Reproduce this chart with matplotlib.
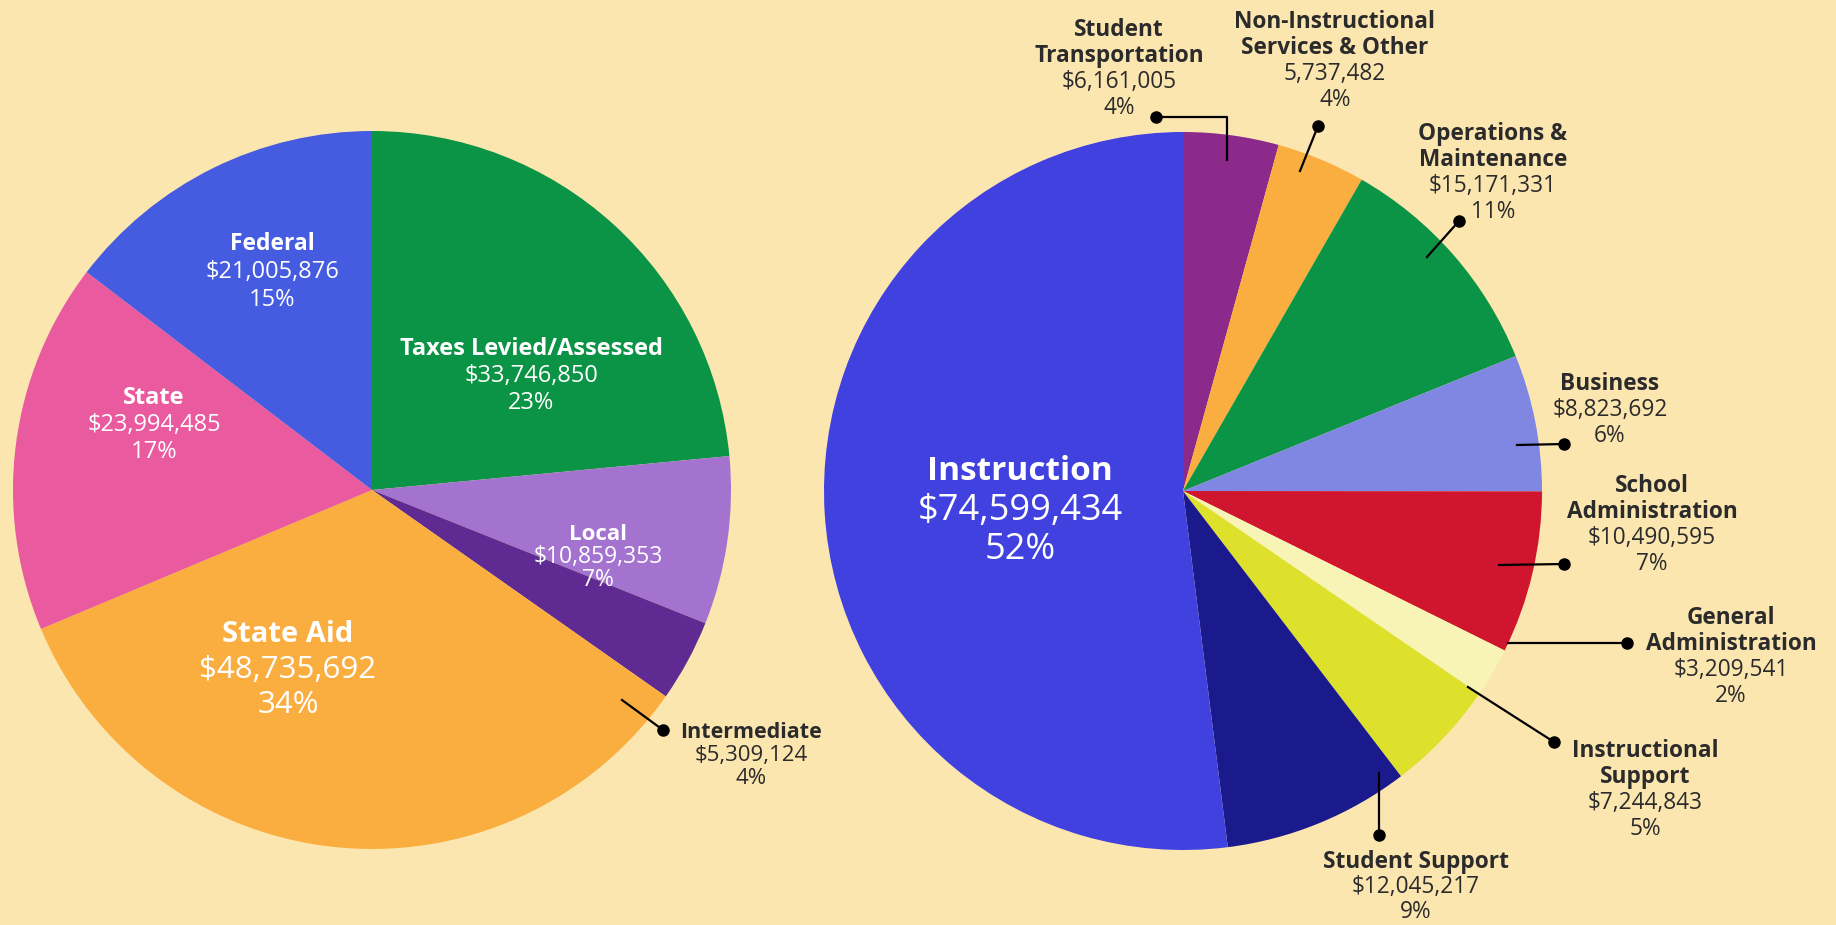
import matplotlib.pyplot as plt

W, H = 1836, 925
bg = '#fce6b0'
dark = '#2b2b2b'
plt.rcParams['font.family'] = ['Open Sans', 'DejaVu Sans']

# Ingresos (pie izquierdo)
rev_names = [['Taxes Levied/Assessed'], ['Local'], ['Intermediate'], ['State Aid'], ['State'], ['Federal']]
rev_values = [33746850, 10859353, 5309124, 48735692, 23994485, 21005876]
rev_pct = [23, 7, 4, 34, 17, 15]
rev_colors = ['#0b9446', '#a373cf', '#5f2b92', '#fbae40', '#ea5a9e', '#455be0']

# Gastos (pie derecho)
exp_names = [['Student', 'Transportation'], ['Non-Instructional', 'Services & Other'],
             ['Operations &', 'Maintenance'], ['Business'], ['School', 'Administration'],
             ['General', 'Administration'], ['Instructional', 'Support'], ['Student Support'],
             ['Instruction']]
exp_values = [6161005, 5737482, 15171331, 8823692, 10490595, 3209541, 7244843, 12045217, 74599434]
exp_pct = [4, 4, 11, 6, 7, 2, 5, 9, 52]
exp_dollar = [True, False, True, True, True, True, True, True, True]
exp_colors = ['#8c2a8c', '#fbae40', '#0b9446', '#7f87e2', '#d0152e', '#f7f4b5', '#dde12c',
              '#1b1a8c', '#4141e0']

# posicion de etiquetas en pixeles
# (x centro, y primera linea, paso, tamaño nombre, tamaño valor, color, linea guia)
rev_layout = [
    (531, 349, 27, 17, 17, 'white', None),
    (598, 534, 23, 16, 16.5, 'white', None),
    (751, 733, 23, 15.5, 16, dark, [(663, 730), (622, 700)]),
    (288, 635, 35, 21, 22.5, 'white', None),
    (154, 398, 27, 17, 17, 'white', None),
    (272, 244, 28, 16.5, 17, 'white', None),
]
s = 16.3
exp_layout = [
    (1119, 30, 26, s, s, dark, [(1156, 117), (1227, 117), (1227, 160)]),
    (1335, 22, 26, s, s, dark, [(1318, 126), (1300, 171)]),
    (1493, 134, 26, s, s, dark, [(1459, 221), (1427, 257)]),
    (1610, 384, 26, s, s, dark, [(1564, 444), (1517, 445)]),
    (1652, 486, 26, s, s, dark, [(1564, 564), (1499, 565)]),
    (1731, 618, 26, s, s, dark, [(1627, 643), (1508, 643)]),
    (1645, 751, 26, s, s, dark, [(1554, 742), (1468, 687)]),
    (1416, 862, 25, s, s, dark, [(1379, 835), (1379, 773)]),
    (1020, 472, 39, 24, 26, 'white', None),
]

fig = plt.figure(figsize=(W / 100, H / 100), dpi=100, facecolor=bg)
ax = fig.add_axes([0, 0, 1, 1])
ax.set_facecolor(bg)

ax.pie(rev_values, colors=rev_colors, startangle=90, counterclock=False,
       center=(372, H - 490), radius=359, wedgeprops=dict(linewidth=0))
ax.pie(exp_values, colors=exp_colors, startangle=90, counterclock=False,
       center=(1183, H - 491), radius=359, wedgeprops=dict(linewidth=0))


def etiqueta(names, value, pct, dollar, lay):
    x, y, step, size_n, size_v, color, guide = lay
    if guide:
        xs = [p[0] for p in guide]
        ys = [H - p[1] for p in guide]
        ax.plot(xs, ys, color='black', lw=1.6, zorder=5)
        ax.plot(xs[0], ys[0], 'o', color='black', ms=8, zorder=6)
    lines = [(n, 'bold', size_n) for n in names]
    lines.append((('$' if dollar else '') + f'{value:,}', 'normal', size_v))
    lines.append((f'{pct}%', 'normal', size_v))
    for i, (t, w, fs) in enumerate(lines):
        ax.text(x, H - (y + i * step), t, ha='center', va='center', fontsize=fs,
                fontweight=w, color=color, zorder=7)


for i in range(len(rev_values)):
    etiqueta(rev_names[i], rev_values[i], rev_pct[i], True, rev_layout[i])
for i in range(len(exp_values)):
    etiqueta(exp_names[i], exp_values[i], exp_pct[i], exp_dollar[i], exp_layout[i])

ax.set_xlim(0, W)
ax.set_ylim(0, H)
ax.set_aspect('equal')
ax.axis('off')
fig.savefig('out.png', dpi=100, facecolor=bg)
